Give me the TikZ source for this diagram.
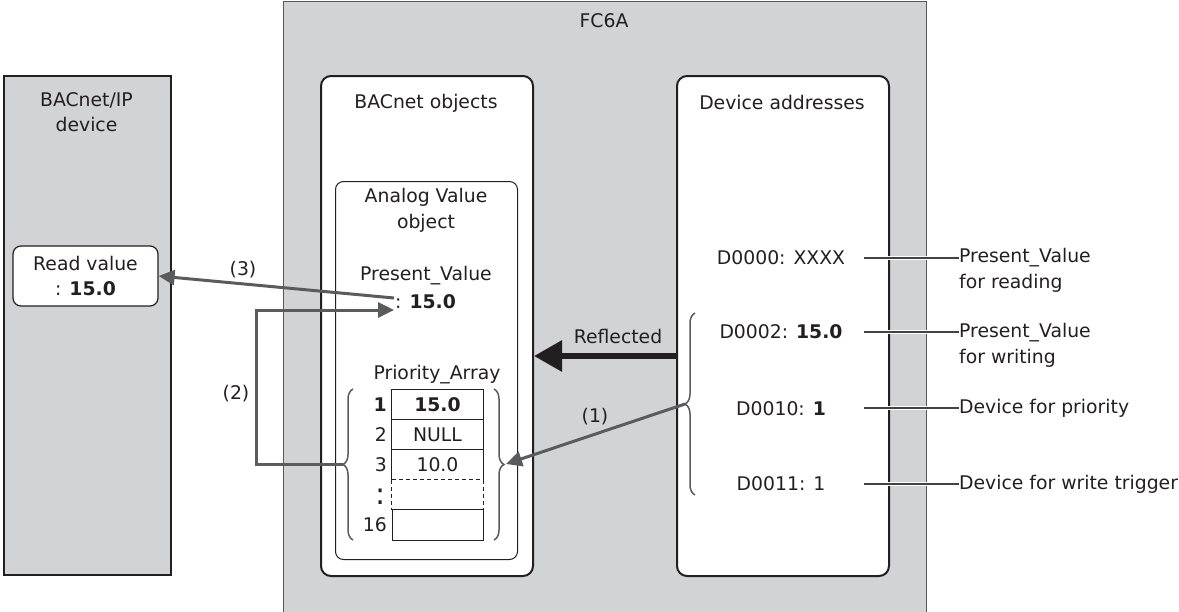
\documentclass[tikz,border=0pt]{standalone}
\usepackage{fontspec}
\setmainfont{DejaVu Sans}
\usetikzlibrary{arrows.meta,decorations.pathreplacing,calc}
\definecolor{boxgray}{HTML}{D1D3D4}
\definecolor{arrgray}{HTML}{5A5B5D}
\definecolor{ink}{HTML}{231F20}
\begin{document}
\begin{tikzpicture}[x=1pt,y=-1pt,
  font=\fontsize{18.8}{25.5}\selectfont, text=ink,
  every node/.style={inner sep=0pt},
  graybox/.style={draw=ink, fill=boxgray, anchor=north west},
  rbox/.style={draw=ink, fill=white, rounded corners=10pt, line width=2pt, anchor=north west},
  cellbox/.style={minimum width=91pt, minimum height=30pt},
  cellline/.style={draw=ink, line width=0.9pt},
  garrow/.style={draw=arrgray, line width=3pt, -{Triangle[length=16pt,width=15pt]}},
  brc/.style={draw=arrgray, line width=1.5pt, decorate, decoration={brace, amplitude=10pt}},
  leader/.style={draw=ink!85, line width=1.2pt, preaction={draw=white, line width=4pt}},
  lbl/.style={anchor=west}
]
\useasboundingbox (0,0) rectangle (1179,611);

% outer boxes
\node[graybox, line width=2pt, minimum width=167pt, minimum height=499pt] (ipdev) at (3,75) {};
\node[align=center] (iptitle) at (86.5,112) {BACnet/IP\\device};
\node[draw=ink, fill=white, rounded corners=8pt, line width=1.2pt,
      minimum width=145pt, minimum height=60pt, align=center] (readval) at (85.5,276)
      {Read value\\: \textbf{15.0}};

\node[graybox, draw=ink!75, line width=1pt, minimum width=643pt, minimum height=640pt] (fc6a) at (283,0.5) {};
\node (fctitle) at (604,21) {FC6A};

\node[rbox, minimum width=212pt, minimum height=500pt] (objs) at (320,75) {};
\node (objtitle) at (426,103) {BACnet objects};
\node[rbox, minimum width=212pt, minimum height=500pt] (devs) at (676,75) {};
\node (devtitle) at (782,102) {Device addresses};

\node[draw=ink, fill=white, rounded corners=8pt, line width=1pt, anchor=north west,
      minimum width=182pt, minimum height=378pt] (avo) at (335,181) {};
\node[align=center] (avotitle) at (426,210.5) {Analog Value\\object};

\node (pvlabel) at (426,276) {Present\_Value};
\node[anchor=west, inner sep=1pt] (pvval) at (394,302) {: \textbf{15.0}};

\node (palabel) at (437,375) {Priority\_Array};

% priority array table
\node[cellbox] (c1) at (437.5,404.3) {\textbf{15.0}};
\node[cellbox] (c2) at (437.5,434.3) {NULL};
\node[cellbox] (c3) at (437.5,464.3) {10.0};
\node[cellbox] (cd) at (437.5,494.3) {};
\node[cellbox, draw=ink, line width=0.9pt, minimum height=30.5pt] (c16) at (437.5,524.7) {};
\draw[cellline] (c3.south west) |- (c1.north east) -- (c3.south east);
\draw[cellline] (c1.south west) -- (c1.south east) (c2.south west) -- (c2.south east);
\draw[cellline, dashed, dash pattern=on 4pt off 3pt] (c3.south west) -- (cd.south west)
      (c3.south east) -- (cd.south east) (c3.south west) -- (c3.south east);
\node[anchor=east] (i1) at (387,404.3) {\textbf{1}};
\node[anchor=east] (i2) at (387,434.3) {2};
\node[anchor=east] (i3) at (387,464.3) {3};
\node[anchor=east, font=\fontsize{30}{30}\selectfont] (idots) at (386,497) {:};
\node[anchor=east] (i16) at (387,524.7) {16};

% braces
\draw[brc] (353,540) -- (353,389);
\draw[brc] (494,389) -- (494,540);
\draw[brc] (695,495) -- (695,313);
\coordinate (lbr) at (343,464.5);
\coordinate (rbr) at (506,464);
\coordinate (dbr) at (685,404);

% device addresses
\node (d0) at (781,258) {D0000: XXXX};
\node (d2) at (781,332) {D0002: \textbf{15.0}};
\node (d10) at (781,409) {D0010: \textbf{1}};
\node (d11) at (781,484) {D0011: 1};

% right labels
\node[lbl] (l0) at (959,258) {Present\_Value};
\node[lbl] (l0b) at (959,283.5) {for reading};
\node[lbl] (l2) at (959,333) {Present\_Value};
\node[lbl] (l2b) at (959,358.5) {for writing};
\node[lbl] (l10) at (959,408) {Device for priority};
\node[lbl] (l11) at (959,484) {Device for write trigger};
\coordinate (s0) at (864,258);
\coordinate (s2) at (864,332);
\coordinate (s10) at (864,408);
\coordinate (s11) at (864,484);
\draw[leader] (s0) -- (l0.west);
\draw[leader] (s2) -- (l2.west |- s2);
\draw[leader] (s10) -- (l10.west);
\draw[leader] (s11) -- (l11.west);

% arrows
\draw[draw=ink, line width=6pt, -{Triangle[length=28pt,width=30pt]}]
  ([yshift=-30pt]devs.west) -- ([yshift=-30pt]objs.east);
\node (refl) at (618,336) {Reflected};

\draw[garrow] (dbr) -- (rbr);
\node (n1) at (595,417) {(1)};

\draw[garrow] (lbr) -- ++(-87,0) |- ([yshift=-8pt]pvval.west);
\node (n2) at (236,394) {(2)};

\draw[garrow] ([yshift=4pt]pvval.west) -- (readval.east);
\node (n3) at (243,270) {(3)};
\end{tikzpicture}
\end{document}
